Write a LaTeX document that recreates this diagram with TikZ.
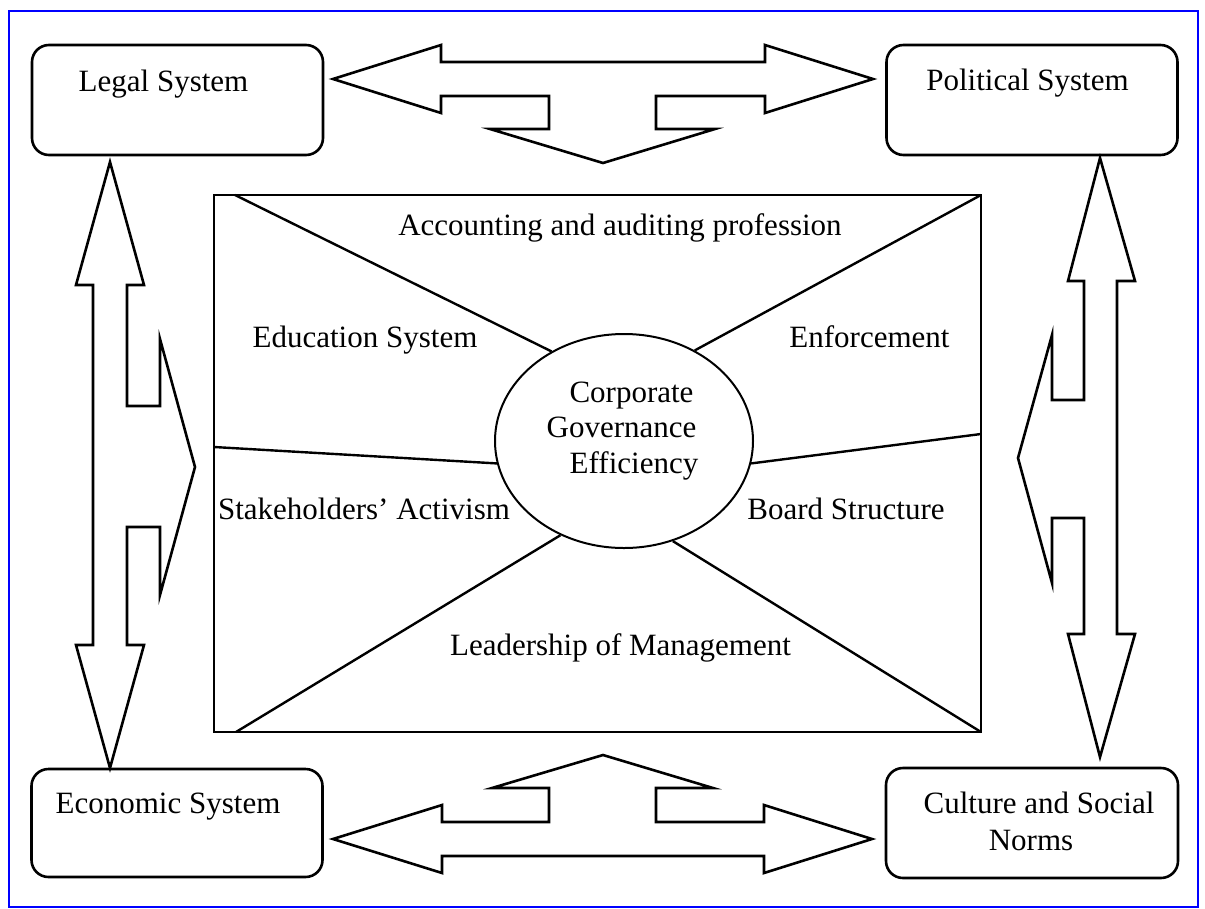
\documentclass[tikz,border=0pt]{standalone}
\usepackage{fontspec}
\setmainfont{Liberation Serif}
\usetikzlibrary{shapes.geometric}
\begin{document}
\begin{tikzpicture}[x=1pt,y=-1pt,
  txt/.style={font=\fontsize{31}{36}\selectfont, inner sep=0pt, anchor=base},
  sysbox/.style={draw, line width=2.6pt, rounded corners=17pt, minimum width=291pt, minimum height=110pt, inner sep=0pt},
  blockarrow/.style={draw, line width=2.6pt, line join=miter, miter limit=20},
  divider/.style={draw, line width=2.4pt},
  frame/.style={draw, line width=2.8pt, minimum width=767pt, minimum height=537pt, inner sep=0pt},
  core/.style={draw, ellipse, line width=2pt, minimum width=258pt, minimum height=214pt, inner sep=0pt}]
\useasboundingbox (0,0) rectangle (1205,908);
\draw[blue, line width=2pt] (9,11) rectangle (1198,907);

% system boxes
\node[sysbox] (legal) at (177.5,100) {};
\node[sysbox] (political) at (1032,100) {};
\node[sysbox, minimum height=108pt] (economic) at (177,823) {};
\node[sysbox, minimum width=292pt] (culture) at (1032,823) {};

\node[txt] (legalt) at (163.5,91) {Legal System};
\node[txt] (politicalt) at (1027.5,90) {Political System};
\node[txt] (economict) at (168,813) {Economic System};
\node[txt] (culturet1) at (1039,813) {Culture and Social};
\node[txt] (culturet2) at (1031,850) {Norms};

% central frame
\node[frame] (frame) at (597.5,463.5) {};
\node[core] (core) at (624,441) {};

\coordinate (tl) at (235,195);
\coordinate (tr) at (981,195);
\coordinate (ml) at (214,447);
\coordinate (mr) at (981,434);
\coordinate (bl) at (236,732);
\coordinate (br) at (981,732);
\draw[divider] (tl) -- (core.129);
\draw[divider] (tr) -- (core.52.7);
\draw[divider] (ml) -- (core.190);
\draw[divider] (mr) -- (core.-10);
\draw[divider] (bl) -- (core.236.3);
\draw[divider] (br) -- (core.296.6);

\node[txt] (acc) at (620,235) {Accounting and auditing profession};
\node[txt] (edu) at (365,347) {Education System};
\node[txt] (enf) at (869.5,347) {Enforcement};
\node[txt] (stake) at (364,519) {Stakeholders’ Activism};
\node[txt] (board) at (846,519) {Board Structure};
\node[txt] (lead) at (620.5,655) {Leadership of Management};
\node[txt] (cg1) at (631.5,402) {Corporate};
\node[txt] (cg2) at (621.5,437) {Governance};
\node[txt] (cg3) at (634,473) {Efficiency};

% top block arrow
\draw[blockarrow] (333,79) -- (441,45) -- (441,62) -- (765,62) -- (765,45) -- (873,79)
  -- (765,113) -- (765,96) -- (656,96) -- (656,129) -- (715,129) -- (603,163)
  -- (490,129) -- (549,129) -- (549,96) -- (441,96) -- (441,113) -- cycle;
% bottom block arrow
\draw[blockarrow] (333,839) -- (442,805) -- (442,822) -- (549,822) -- (549,788) -- (492,788)
  -- (603,755) -- (713,788) -- (656,788) -- (656,822) -- (764,822) -- (764,805)
  -- (872,839) -- (764,873) -- (764,856) -- (442,856) -- (442,873) -- cycle;
% left block arrow
\draw[blockarrow] (110,162) -- (144,285) -- (127,285) -- (127,406) -- (160,406) -- (160,339)
  -- (195,467) -- (160,595) -- (160,527) -- (127,527) -- (127,645) -- (144,645)
  -- (110,768) -- (76,645) -- (93,645) -- (93,285) -- (76,285) -- cycle;
% right block arrow
\draw[blockarrow] (1100,158) -- (1135,281) -- (1117,281) -- (1117,634) -- (1135,634)
  -- (1100,757) -- (1068,634) -- (1084,634) -- (1084,518) -- (1052,518) -- (1052,583)
  -- (1018,458) -- (1052,335) -- (1052,400) -- (1084,400) -- (1084,281) -- (1068,281) -- cycle;
\end{tikzpicture}
\end{document}
